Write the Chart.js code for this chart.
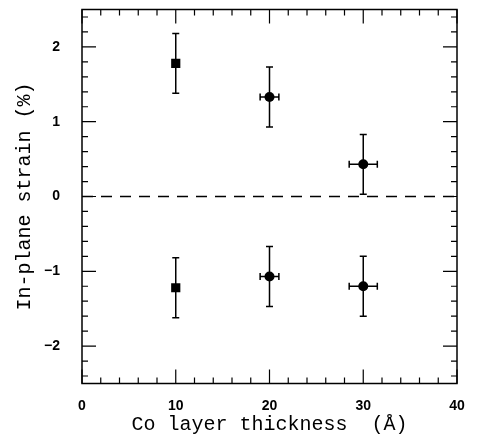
<!DOCTYPE html>
<html>
<head>
<meta charset="utf-8">
<script src="https://cdn.jsdelivr.net/npm/chart.js@4.4.1/dist/chart.umd.min.js"></script>
<style>
  html, body { margin: 0; padding: 0; background: #fff; }
  #wrap { width: 477px; height: 438px; }
</style>
</head>
<body>
<div id="wrap"><canvas id="strainChart"></canvas></div>
<script>
// данные с картинки
const thickness = [10, 20, 30];
const strainUpper = [1.78, 1.33, 0.43];
const strainLower = [-1.22, -1.07, -1.20];
const strainErr = [0.40, 0.40, 0.40];
const thickErr = [0, 1.0, 1.5];
const markerStyle = ['rect', 'circle', 'circle'];

const xTicks = [0, 10, 20, 30, 40];
const yTicks = [-2, -1, 0, 1, 2];

function toPoints(ys) {
    return thickness.map((x, i) => ({ x: x, y: ys[i], xe: thickErr[i], ye: strainErr[i] }));
}

// усы погрешностей
const errorBars = {
    id: 'errorBars',
    beforeDatasetsDraw(chart) {
        const ctx = chart.ctx;
        const xs = chart.scales.x, ys = chart.scales.y;
        ctx.save();
        ctx.strokeStyle = '#000';
        ctx.lineWidth = 1.5;
        chart.data.datasets.forEach(ds => {
            if (!ds.errors) return;
            ds.data.forEach(p => {
                const px = xs.getPixelForValue(p.x);
                const y1 = ys.getPixelForValue(p.y + p.ye);
                const y2 = ys.getPixelForValue(p.y - p.ye);
                ctx.beginPath();
                ctx.moveTo(px, y1); ctx.lineTo(px, y2);
                ctx.moveTo(px - 3.5, y1); ctx.lineTo(px + 3.5, y1);
                ctx.moveTo(px - 3.5, y2); ctx.lineTo(px + 3.5, y2);
                if (p.xe > 0) {
                    const py = ys.getPixelForValue(p.y);
                    const x1 = xs.getPixelForValue(p.x - p.xe);
                    const x2 = xs.getPixelForValue(p.x + p.xe);
                    ctx.moveTo(x1, py); ctx.lineTo(x2, py);
                    ctx.moveTo(x1, py - 3.5); ctx.lineTo(x1, py + 3.5);
                    ctx.moveTo(x2, py - 3.5); ctx.lineTo(x2, py + 3.5);
                }
                ctx.stroke();
            });
        });
        ctx.restore();
    }
};

// рамка и внутренние риски на всех четырёх сторонах
const frameTicks = {
    id: 'frameTicks',
    afterDraw(chart) {
        const ctx = chart.ctx;
        const a = chart.chartArea;
        const xs = chart.scales.x, ys = chart.scales.y;
        ctx.save();
        ctx.strokeStyle = '#000';
        ctx.lineWidth = 1.5;
        ctx.strokeRect(a.left, a.top, a.right - a.left, a.bottom - a.top);
        ctx.lineWidth = 1.2;
        ctx.beginPath();
        for (let v = 0; v <= 40; v += 2) {
            const len = v % 10 === 0 ? 14 : 6;
            const px = xs.getPixelForValue(v);
            ctx.moveTo(px, a.bottom); ctx.lineTo(px, a.bottom - len);
            ctx.moveTo(px, a.top); ctx.lineTo(px, a.top + len);
        }
        for (let k = -12; k <= 12; k++) {
            const v = k / 5;
            const len = k % 5 === 0 ? 14 : 6;
            const py = ys.getPixelForValue(v);
            ctx.moveTo(a.left, py); ctx.lineTo(a.left + len, py);
            ctx.moveTo(a.right, py); ctx.lineTo(a.right - len, py);
        }
        ctx.stroke();
        ctx.restore();
    }
};

const tickFont = { family: 'Liberation Sans', size: 14, weight: 'bold' };
const titleFont = { family: 'Liberation Mono', size: 20 };

new Chart(document.getElementById('strainChart'), {
    type: 'scatter',
    data: {
        datasets: [
            {
                data: toPoints(strainUpper),
                errors: true,
                pointStyle: markerStyle,
                pointRadius: [6.5, 5, 5],
                backgroundColor: '#000',
                borderColor: '#000',
                borderWidth: 0
            },
            {
                data: toPoints(strainLower),
                errors: true,
                pointStyle: markerStyle,
                pointRadius: [6.5, 5, 5],
                backgroundColor: '#000',
                borderColor: '#000',
                borderWidth: 0
            },
            {
                type: 'line',
                data: [{ x: 0, y: 0 }, { x: 40, y: 0 }],
                borderColor: '#000',
                borderWidth: 1.5,
                borderDash: [11, 8],
                pointRadius: 0
            }
        ]
    },
    options: {
        responsive: true,
        maintainAspectRatio: false,
        animation: false,
        layout: { padding: { top: 9.5, right: 20, bottom: 0, left: 0 } },
        plugins: { legend: { display: false }, tooltip: { enabled: false } },
        scales: {
            x: {
                type: 'linear',
                min: 0, max: 40,
                afterBuildTicks: s => { s.ticks = xTicks.map(v => ({ value: v })); },
                afterFit: s => { s.height = 54.5; s.paddingLeft = 0; s.paddingRight = 0; },
                grid: { display: false },
                border: { display: false },
                ticks: { color: '#000', font: tickFont, padding: 6 },
                title: {
                    display: true,
                    text: 'Co layer thickness  (Å)',
                    color: '#000',
                    font: titleFont,
                    padding: { top: 0, bottom: 1 }
                }
            },
            y: {
                type: 'linear',
                min: -2.5, max: 2.5,
                afterBuildTicks: s => { s.ticks = yTicks.map(v => ({ value: v })); },
                afterFit: s => { s.width = 82; s.paddingTop = 0; s.paddingBottom = 0; },
                grid: { display: false },
                border: { display: false },
                ticks: {
                    color: '#000', font: tickFont, padding: 14,
                    callback: v => String(v).replace('-', '\u2212')
                },
                title: {
                    display: true,
                    text: 'In-plane strain (%)',
                    color: '#000',
                    font: titleFont,
                    padding: { top: 13, bottom: 0 }
                }
            }
        }
    },
    plugins: [errorBars, frameTicks]
});
</script>
</body>
</html>
